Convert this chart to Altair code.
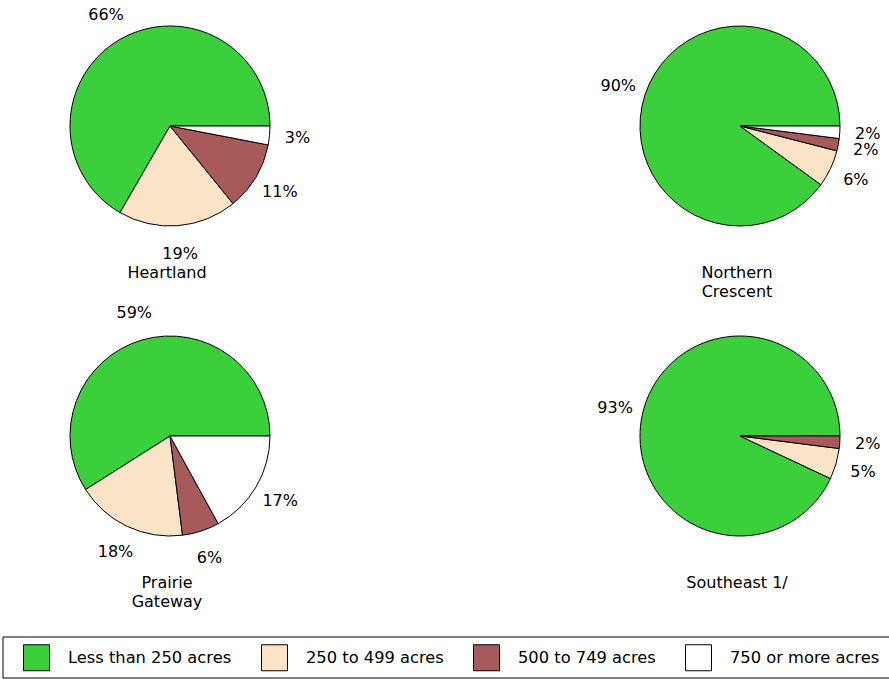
import math
import altair as alt
import pandas as pd

# ---- data ----
regions = ["Heartland", "Northern Crescent", "Prairie Gateway", "Southeast 1/"]
region_labels = ["Heartland", "Northern\nCrescent", "Prairie\nGateway", "Southeast 1/"]
region_col = [0, 1, 0, 1]
region_row = [0, 0, 1, 1]

sizes = ["Less than 250 acres", "250 to 499 acres", "500 to 749 acres", "750 or more acres"]
heartland = [66, 19, 11, 3]
northern_crescent = [90, 6, 2, 2]
prairie_gateway = [59, 18, 6, 17]
southeast = [93, 5, 2, 0]
size_colors = ["#3ccf3c", "#fbe3c6", "#a65a5a", "#ffffff"]

series = [heartland, northern_crescent, prairie_gateway, southeast]

rows = []
for reg, lab, c, r, vals in zip(regions, region_labels, region_col, region_row, series):
    total = sum(vals)
    cum = 0
    for k, (s, v) in enumerate(zip(sizes, vals)):
        rows.append(dict(region=reg, col=c, row=r, size=s, order=k, pct=v,
                         start=cum / total, end=(cum + v) / total,
                         mid=(cum + v / 2) / total, text=f"{v}%"))
        cum += v
df = pd.DataFrame(rows)
df_regions = pd.DataFrame({"region": regions, "label": region_labels,
                           "col": region_col, "row": region_row})

FONT = "DejaVu Sans"
xs = alt.Scale(domain=[0, 1], range=[170, 740])
ys = alt.Scale(domain=[0, 1], range=[126, 436])
ts = alt.Scale(domain=[0, 1], range=[2.5 * math.pi, 0.5 * math.pi])

X = alt.X("col:Q", scale=xs, axis=None)
Y = alt.Y("row:Q", scale=ys, axis=None)

arcs = alt.Chart(df).transform_filter("datum.pct > 0").mark_arc(
    radius=100, stroke="black", strokeWidth=1
).encode(
    x=X, y=Y,
    theta=alt.Theta("start:Q", scale=ts, stack=False),
    theta2="end:Q",
    color=alt.Color(
        "size:N",
        scale=alt.Scale(domain=sizes, range=size_colors),
        legend=alt.Legend(
            title=None, orient="none", legendX=23, legendY=644,
            direction="horizontal", symbolType="square", symbolSize=676,
            symbolStrokeColor="black", symbolStrokeWidth=1,
            labelFont=FONT, labelFontSize=16.3, labelColor="black",
            labelOffset=18, columnPadding=27, labelLimit=300, padding=0,
        ),
    ),
)

pct_labels = alt.Chart(df).transform_filter("datum.pct > 0").mark_text(
    font=FONT, fontSize=16, align="center", baseline="middle", color="black"
).encode(
    x=X, y=Y,
    theta=alt.Theta("mid:Q", scale=ts, stack=False),
    radius=alt.value(128),
    text="text:N",
)

names = alt.Chart(df_regions).mark_text(
    font=FONT, fontSize=16, align="center", baseline="alphabetic",
    dy=152, dx=-3, lineBreak="\n", lineHeight=19, color="black"
).encode(x=X, y=Y, text="label:N")

box = alt.Chart(pd.DataFrame({"box": [1]})).mark_rect(
    fillOpacity=0, stroke="black", strokeWidth=1
).encode(x=alt.value(3), x2=alt.value(900), y=alt.value(637), y2=alt.value(678))

chart = alt.layer(arcs, pct_labels, names, box).properties(
    width=889, height=679, padding=0, autosize="none", background="white"
).configure_view(strokeWidth=0)

chart.save("out.html", embed_options={"renderer": "svg", "actions": False})
